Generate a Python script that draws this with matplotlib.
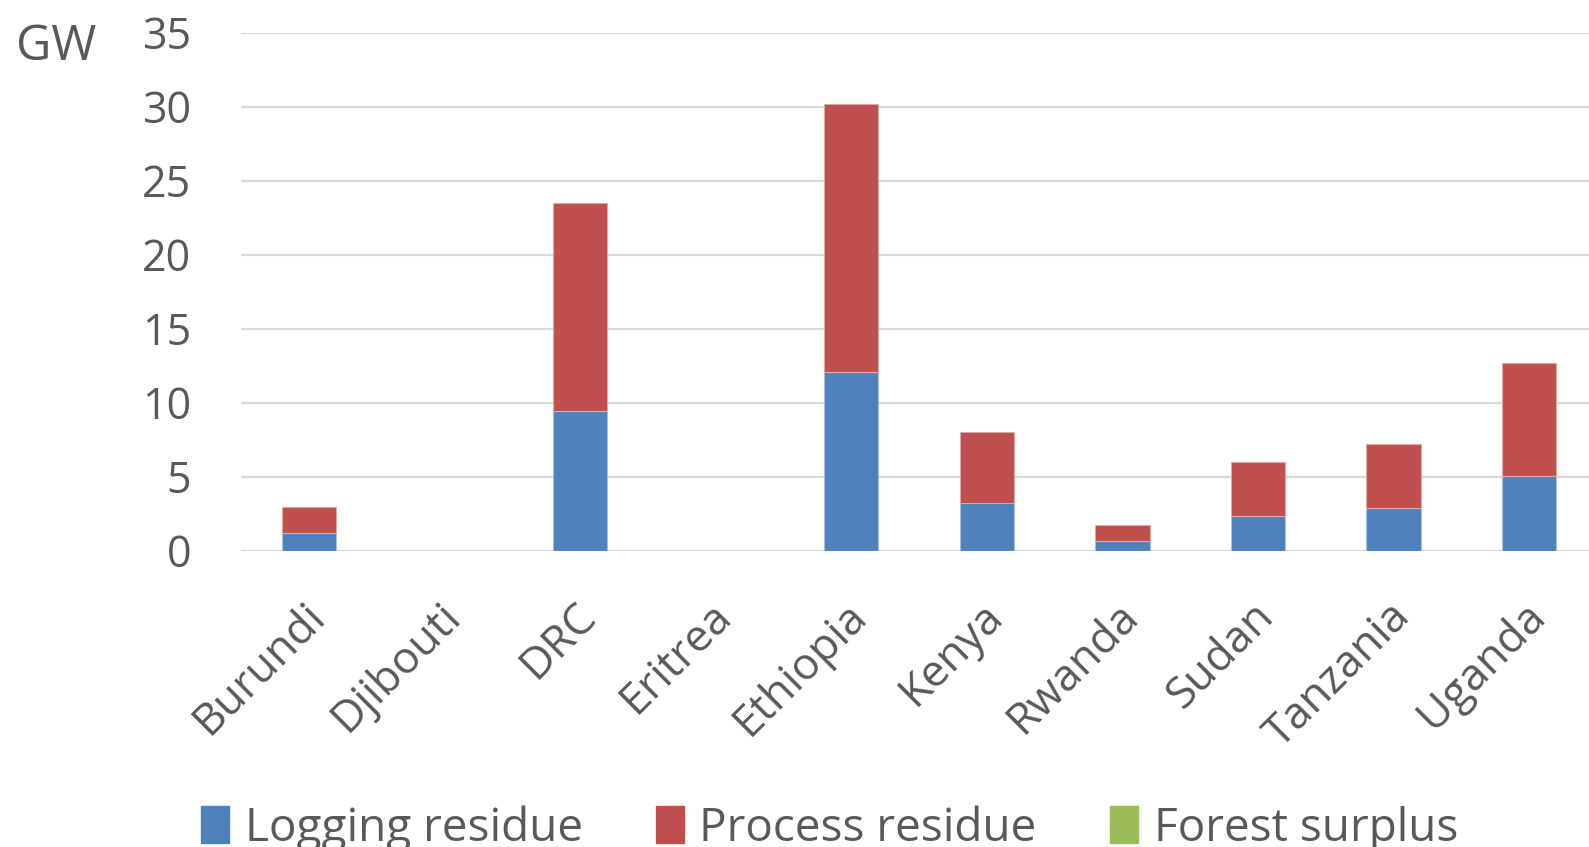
import matplotlib
matplotlib.use("Agg")
import matplotlib.pyplot as plt
import matplotlib.transforms as mtransforms
from matplotlib.patches import Patch
import numpy as np

# GW potential per country, by source
countries = ["Burundi", "Djibouti", "DRC", "Eritrea", "Ethiopia",
             "Kenya", "Rwanda", "Sudan", "Tanzania", "Uganda"]
logging_residue = [1.17, 0, 9.41, 0, 12.07, 3.2, 0.66, 2.34, 2.89, 5.05]
process_residue = [1.76, 0, 14.09, 0, 18.13, 4.84, 1.08, 3.67, 4.34, 7.65]
forest_surplus = [0, 0, 0, 0, 0, 0, 0, 0, 0, 0]

c_log = "#4f81bd"
c_proc = "#c0504d"
c_forest = "#9bbb59"
txt = "#595959"
grid = "#d9d9d9"

fig = plt.figure(figsize=(15.89, 8.47), dpi=100)
ax = fig.add_axes([241/1589, 1 - 550.7/847, 1356/1589, (550.7 - 32.7)/847])

x = np.arange(len(countries))
w = 0.4
log = np.array(logging_residue)
proc = np.array(process_residue)
forest = np.array(forest_surplus)
ax.bar(x, log, w, color=c_log, edgecolor="#a7c0de", linewidth=0.8, zorder=3)
ax.bar(x, proc, w, bottom=log, color=c_proc, edgecolor="#e0a8a6", linewidth=0.8, zorder=3)
ax.bar(x, forest, w, bottom=log + proc, color=c_forest, linewidth=0, zorder=3)

ax.set_xlim(-0.5, len(countries) - 0.5)
ax.set_ylim(0, 35)
ax.set_yticks(range(0, 36, 5))
ax.yaxis.grid(True, color=grid, linewidth=1.6, zorder=0)
ax.set_axisbelow(True)
for s in ax.spines.values():
    s.set_visible(False)
ax.tick_params(axis="both", length=0, colors=txt)
ax.tick_params(axis="y", pad=36, labelsize=31)
for lab in ax.get_yticklabels():
    lab.set_fontfamily("Open Sans")

ax.set_xticks(x)
ax.set_xticklabels(countries, rotation=45, ha="right", va="top",
                   rotation_mode="anchor", fontfamily="Open Sans", fontsize=32)
ax.tick_params(axis="x", pad=31)
shift = mtransforms.ScaledTranslation(-6/100, 0, fig.dpi_scale_trans)
for lab in ax.get_xticklabels():
    lab.set_transform(lab.get_transform() + shift)

fig.text(16/1589, 1 - 47/847, "GW", fontsize=35, color=txt,
         fontfamily="Open Sans", va="center", ha="left")

handles = [Patch(color=c_log, label="Logging residue"),
           Patch(color=c_proc, label="Process residue"),
           Patch(color=c_forest, label="Forest surplus")]
leg = fig.legend(handles=handles, loc="upper center", ncol=3,
                 bbox_to_anchor=(0.522, 1 - 805/847), frameon=False,
                 prop={"family": "Open Sans", "size": 33},
                 handlelength=0.62, handleheight=0.85, handletextpad=0.33,
                 columnspacing=1.6, borderaxespad=0, borderpad=0)
for t in leg.get_texts():
    t.set_color(txt)

fig.savefig("out.png", dpi=100)
